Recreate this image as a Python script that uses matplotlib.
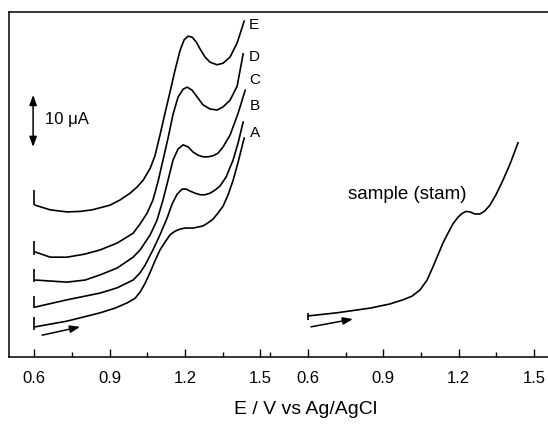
import numpy as np
import matplotlib
matplotlib.use("Agg")
import matplotlib.pyplot as plt

plt.rcParams['font.family'] = ['Liberation Sans', 'DejaVu Sans']

# linear sweep voltammograms, potential in V, current in uA (offset traces)
E_E = [0.604, 0.664, 0.731, 0.783, 0.831, 0.902, 0.942, 0.982, 1.010, 1.034,
       1.062, 1.081, 1.101, 1.121, 1.141, 1.161, 1.181, 1.197, 1.213, 1.229,
       1.245, 1.261, 1.280, 1.300, 1.328, 1.352, 1.380, 1.408, 1.436]
I_E = [29.2, 28.3, 27.9, 28.0, 28.3, 29.2, 30.2, 31.5, 32.7, 34.0,
       36.3, 38.7, 42.7, 46.9, 51.0, 55.2, 59.0, 61.0, 61.7, 61.5,
       60.6, 59.2, 57.7, 56.7, 56.2, 56.5, 57.7, 60.4, 64.6]

E_D = [0.604, 0.664, 0.731, 0.803, 0.863, 0.930, 0.994, 1.022, 1.050, 1.073,
       1.093, 1.113, 1.133, 1.153, 1.173, 1.193, 1.209, 1.229, 1.249, 1.272,
       1.300, 1.328, 1.352, 1.380, 1.408, 1.432]
I_D = [20.2, 19.2, 19.2, 19.8, 20.6, 21.9, 23.8, 25.6, 27.7, 30.2,
       33.7, 37.9, 42.1, 46.7, 50.0, 51.5, 51.9, 51.3, 50.0, 48.5,
       47.7, 47.5, 48.1, 49.4, 52.1, 58.3]

E_C = [0.604, 0.731, 0.803, 0.863, 0.930, 0.994, 1.022, 1.062, 1.089, 1.113,
       1.133, 1.153, 1.173, 1.193, 1.213, 1.233, 1.253, 1.272, 1.292, 1.312,
       1.332, 1.352, 1.380, 1.412, 1.440]
I_C = [14.8, 14.4, 14.8, 15.8, 17.1, 19.2, 20.6, 23.5, 26.3, 30.2,
       34.0, 37.9, 40.0, 40.8, 40.4, 39.4, 38.8, 38.5, 38.5, 38.7,
       39.2, 40.4, 42.7, 46.9, 51.3]

E_B = [0.604, 0.731, 0.863, 0.930, 0.994, 1.022, 1.042, 1.073, 1.101, 1.129,
       1.149, 1.169, 1.189, 1.205, 1.221, 1.241, 1.261, 1.280, 1.300, 1.320,
       1.340, 1.364, 1.392, 1.412, 1.432]
I_B = [9.6, 11.0, 12.3, 13.3, 14.8, 16.2, 17.7, 20.6, 23.5, 26.7,
       29.4, 31.3, 32.3, 32.3, 31.9, 31.5, 31.2, 31.2, 31.5, 32.1,
       32.9, 34.6, 37.9, 41.2, 45.2]

E_A = [0.604, 0.731, 0.863, 0.922, 0.970, 1.002, 1.022, 1.042, 1.062, 1.081,
       1.101, 1.121, 1.141, 1.161, 1.181, 1.201, 1.233, 1.272, 1.292, 1.312,
       1.332, 1.352, 1.372, 1.392, 1.412, 1.436]
I_A = [5.8, 6.9, 8.5, 9.4, 10.4, 11.3, 12.5, 14.2, 16.3, 18.5,
       20.6, 22.1, 23.5, 24.2, 24.6, 24.8, 24.8, 25.2, 25.8, 26.5,
       27.7, 29.0, 31.2, 34.0, 37.5, 42.1]

E_sample = [0.600, 0.715, 0.847, 0.926, 0.978, 1.014, 1.046, 1.074, 1.097, 1.117,
            1.137, 1.157, 1.177, 1.197, 1.213, 1.229, 1.245, 1.264, 1.284, 1.304,
            1.324, 1.348, 1.376, 1.404, 1.436]
I_sample = [7.9, 8.5, 9.4, 10.2, 11.0, 11.7, 12.9, 14.8, 17.3, 19.6,
            21.9, 23.8, 25.6, 26.9, 27.6, 28.0, 27.9, 27.5, 27.5, 28.1,
            29.2, 31.2, 34.0, 37.1, 41.2]

curve_names = ['E', 'D', 'C', 'B', 'A']
start_marks = [(32.1, 29.2), (22.3, 19.6), (16.9, 14.4), (11.7, 9.4), (7.7, 5.2)]
name_pos = [(1.475, 63.8), (1.475, 57.7), (1.480, 53.3), (1.478, 48.3), (1.480, 43.1)]
sample_mark = (8.5, 7.1)

tick_major = [0.6, 0.9, 1.2, 1.5]
tick_minor_left = [0.75, 1.05, 1.35]
tick_minor_right = [0.45, 0.75, 1.05, 1.35]
tick_labels = ['0.6', '0.9', '1.2', '1.5']

# the sample trace shares the axis, shifted to the right
SHIFT = 1.09

fig = plt.figure(figsize=(5.48, 4.30), dpi=100)
ax = fig.add_axes([9 / 548, 73 / 430, 551 / 548, 345 / 430])

lw = 1.2
for Ex, Iy in zip([E_E, E_D, E_C, E_B, E_A], [I_E, I_D, I_C, I_B, I_A]):
    ax.plot(Ex, Iy, color='black', lw=lw, solid_joinstyle='round')
for (hi, lo), name, (tx, ty) in zip(start_marks, curve_names, name_pos):
    ax.vlines(0.6, lo, hi, color='black', lw=lw)
    ax.text(tx, ty, name, fontsize=11, ha='center', va='center')

ax.plot(np.array(E_sample) + SHIFT, I_sample, color='black', lw=lw,
        solid_joinstyle='round')
ax.vlines(0.6 + SHIFT, sample_mark[1], sample_mark[0], color='black', lw=lw)
ax.text(0.994 + SHIFT, 31.2, 'sample (stam)', fontsize=13.5, ha='center', va='center')

# sweep direction arrows
arrow = dict(arrowstyle='-|>,head_length=0.6,head_width=0.22', color='black', lw=1.1,
             shrinkA=0, shrinkB=0)
ax.annotate('', xy=(0.783, 5.8), xytext=(0.632, 4.2), arrowprops=arrow)
ax.annotate('', xy=(0.779 + SHIFT, 7.3), xytext=(0.612 + SHIFT, 5.8), arrowprops=arrow)

# 10 uA scale bar
bar = dict(arrowstyle='<|-|>,head_length=0.6,head_width=0.22', color='black', lw=1.1,
           shrinkA=0, shrinkB=0)
ax.annotate('', xy=(0.596, 50.4), xytext=(0.596, 40.4), arrowprops=bar)
ax.text(0.644, 45.6, '10 \u03bcA', fontsize=12, ha='left', va='center')

ax.set_xlim(0.5, 2.693)
ax.set_ylim(0, 66.35)
ax.set_xticks(tick_major + [t + SHIFT for t in tick_major])
ax.set_xticklabels(tick_labels + tick_labels)
ax.set_xticks(tick_minor_left + [t + SHIFT for t in tick_minor_right], minor=True)
ax.set_yticks([])
ax.tick_params(axis='x', which='major', direction='in', length=6, width=1.0,
               labelsize=12, pad=10)
ax.tick_params(axis='x', which='minor', direction='in', length=3.5, width=1.0)
for side in ['left', 'top', 'bottom', 'right']:
    ax.spines[side].set_linewidth(1.1)

fig.text(306 / 548, 1 - 410 / 430, 'E / V vs Ag/AgCl', fontsize=14,
         ha='center', va='center')

fig.savefig('out.png', dpi=100)
